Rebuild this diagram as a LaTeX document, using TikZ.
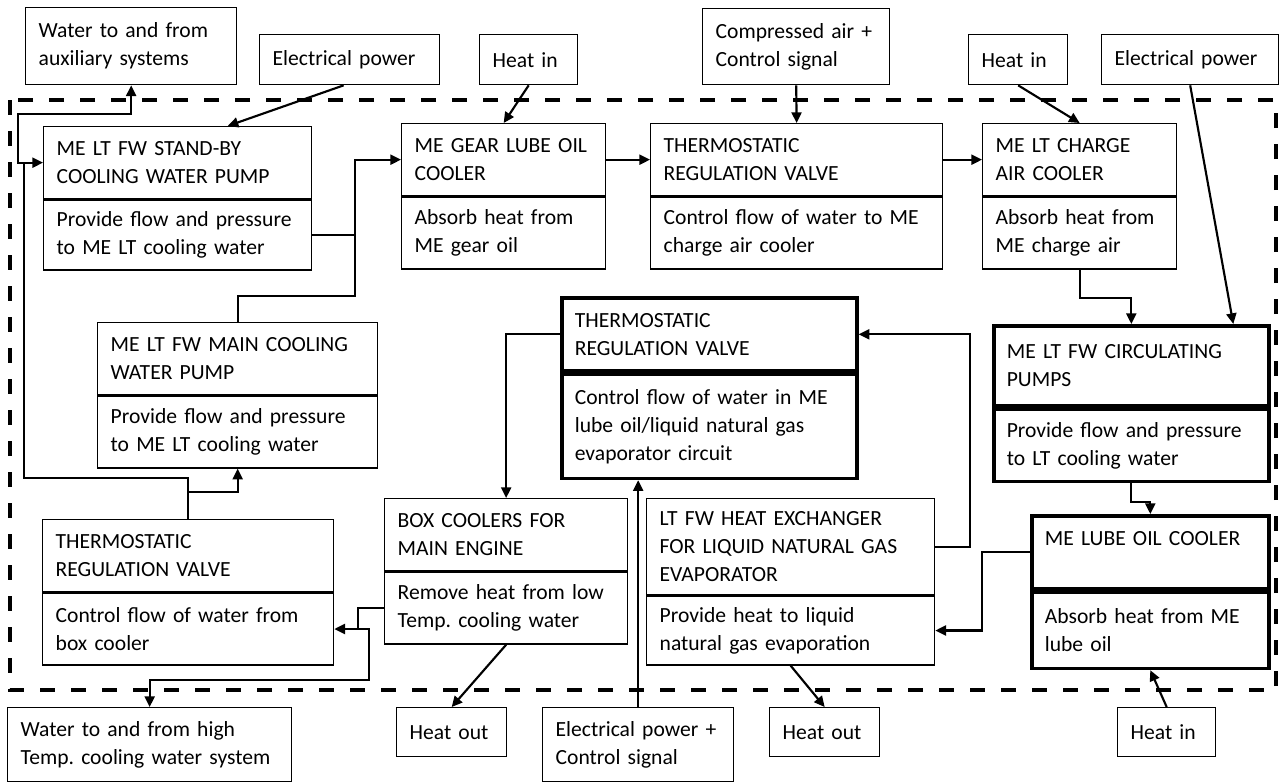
\documentclass[tikz,border=0pt]{standalone}
\usepackage{fontspec}
\setmainfont{Carlito}
\usetikzlibrary{arrows.meta,calc}
\frenchspacing
\begin{document}
\begin{tikzpicture}[x=0.75pt,y=-0.75pt,
    part/.style={draw,line width=1pt,anchor=north west,inner xsep=9.75pt,inner ysep=0pt,
      align=left,font=\fontsize{16.2}{21}\selectfont},
    heavy/.style={part,line width=2.7pt},
    flow/.style={line width=1.6pt,-{Triangle[length=8pt,width=7.5pt]}},
    pipe/.style={line width=1.6pt}]
  \useasboundingbox (0,0) rectangle (1280,783);
  \draw[line width=2.5pt,dash pattern=on 11.25pt off 12pt] (10,100) rectangle (1276,690);

  \node[part,text width=138.75pt,minimum height=57.75pt] (aux) at (25,7) {Water to and from\\auxiliary systems};
  \node[part,text width=115.5pt,minimum height=37.5pt] (elec1) at (259,34) {Electrical power};
  \node[part,text width=54pt,minimum height=37.5pt] (heatin1) at (479,34) {Heat in};
  \node[part,text width=120.75pt,minimum height=57pt] (air) at (702,8) {Compressed air +\\Control signal};
  \node[part,text width=54.75pt,minimum height=37.5pt] (heatin2) at (968,34) {Heat in};
  \node[part,text width=113.25pt,minimum height=37.5pt] (elec2) at (1101,34) {Electrical power};

  \node[part,text width=181.5pt,minimum height=54pt] (sbT) at (43,126) {ME LT FW STAND-BY\\COOLING WATER PUMP};
  \node[part,text width=181.5pt,minimum height=52.5pt] (sbD) at (sbT.south west) {Provide flow and pressure\\to ME LT cooling water};
  \node[part,text width=133.5pt,minimum height=54pt] (gearT) at (401,123) {ME GEAR LUBE OIL\\COOLER};
  \node[part,text width=133.5pt,minimum height=54pt] (gearD) at (gearT.south west) {Absorb heat from\\ME gear oil};
  \node[part,text width=199.5pt,minimum height=54pt] (trvcaT) at (650,123) {THERMOSTATIC\\REGULATION VALVE};
  \node[part,text width=199.5pt,minimum height=54pt] (trvcaD) at (trvcaT.south west) {Control flow of water to ME\\charge air cooler};
  \node[part,text width=126pt,minimum height=54pt] (cacT) at (982,123) {ME LT CHARGE\\AIR COOLER};
  \node[part,text width=126pt,minimum height=54pt] (cacD) at (cacT.south west) {Absorb heat from\\ME charge air};

  \node[part,text width=190.5pt,minimum height=54pt] (mainT) at (97,322) {ME LT FW MAIN COOLING\\WATER PUMP};
  \node[part,text width=190.5pt,minimum height=54pt] (mainD) at (mainT.south west) {Provide flow and pressure\\to ME LT cooling water};
  \node[heavy,text width=201.75pt,minimum height=54.75pt] (trvloT) at (560,296) {THERMOSTATIC\\REGULATION VALVE};
  \node[heavy,text width=201.75pt,minimum height=78pt] (trvloD) at (trvloT.south west) {Control flow of water in ME\\lube oil/liquid natural gas\\evaporator circuit};
  \node[heavy,text width=186.75pt,minimum height=60pt] (circT) at (992,324) {ME LT FW CIRCULATING\\PUMPS};
  \node[heavy,text width=186.75pt,minimum height=54pt] (circD) at (circT.south west) {Provide flow and pressure\\to LT cooling water};

  \node[part,text width=198.75pt,minimum height=54pt] (trvboxT) at (42,519) {THERMOSTATIC\\REGULATION VALVE};
  \node[part,text width=198.75pt,minimum height=54pt] (trvboxD) at (trvboxT.south west) {Control flow of water from\\box cooler};
  \node[part,text width=162.75pt,minimum height=54pt] (boxT) at (384,498) {BOX COOLERS FOR\\MAIN ENGINE};
  \node[part,text width=162.75pt,minimum height=54pt] (boxD) at (boxT.south west) {Remove heat from low\\Temp. cooling water};
  \node[part,text width=196.5pt,minimum height=72pt] (lngT) at (646,498) {LT FW HEAT EXCHANGER\\FOR LIQUID NATURAL GAS\\EVAPORATOR};
  \node[part,text width=196.5pt,minimum height=51.75pt] (lngD) at (lngT.south west) {Provide heat to liquid\\natural gas evaporation};
  \node[heavy,text width=158.25pt,minimum height=54.75pt] (lubeT) at (1030,514) {ME LUBE OIL COOLER\\\mbox{}};
  \node[heavy,text width=158.25pt,minimum height=57pt] (lubeD) at (lubeT.south west) {Absorb heat from ME\\lube oil};

  \node[part,text width=193.5pt,minimum height=55.5pt] (hightemp) at (7,707) {Water to and from high\\Temp. cooling water system};
  \node[part,text width=63pt,minimum height=36.75pt] (heatout1) at (396,707) {Heat out};
  \node[part,text width=123.75pt,minimum height=55.5pt] (elecctl) at (542,707) {Electrical power +\\Control signal};
  \node[part,text width=63pt,minimum height=36.75pt] (heatout2) at (769,707) {Heat out};
  \node[part,text width=54pt,minimum height=36.75pt] (heatin3) at (1117,707) {Heat in};

  \draw[flow] ($(elec1.south)+(-6,0)$) -- ($(sbT.north)+(50,0)$);
  \draw[flow] (heatin1.south) -- (gearT.north);
  \draw[flow] (air.south) -- (trvcaT.north);
  \draw[flow] (heatin2.south) -- (cacT.north);
  \draw[flow] (elec2.south) -- ($(circT.north)+(102,0)$);
  \draw[flow] (gearT.east) -- (trvcaT.west);
  \draw[flow] (trvcaT.east) -- (cacT.west);
  \draw[flow] (cacD.south) -- ++(0,28) -| (circT.north);
  \draw[flow] (circD.south) -- ++(0,19) -| (lubeT.north);
  \draw[flow] (lubeT.west) -- ++(-48,0) |- (lngD.east);
  \draw[flow] (lngT.east) -- ++(35,0) |- (trvloT.east);
  \draw[flow] (trvloT.west) -| (boxT.north);
  \draw[flow] (elecctl.north) -- (elecctl.north |- trvloD.south);
  \draw[flow] (boxD.south) -- (heatout1.north);
  \draw[flow] (lngD.south) -- (heatout2.north);
  \draw[flow] (heatin3.north) -- (lubeD.south);
  \draw[flow] (sbD.east) -- ++(43,0) |- (gearT.west);
  \draw[pipe] (mainT.north) -- ++(0,-26) -| ($(sbD.east)+(43,0)$);
  \draw[flow] (trvboxT.north) -- ++(0,-27) -| (mainD.south);
  \draw[flow] (trvboxT.north) -- ++(0,-41) -| ($(sbT.west)+(-19,0)$) -- (sbT.west);
  \draw[flow] ($(sbT.west)+(-19,0)$) -- ++(-6,0) -- ++(0,-49) -| (aux.south);
  \draw[flow] (boxD.west) -- ++(-26,0) |- (trvboxD.east);
  \draw[flow] ($(trvboxD.east)+(25,0)$) -- ++(10,0) -- ++(0,51) -| (hightemp.north);
\end{tikzpicture}
\end{document}
